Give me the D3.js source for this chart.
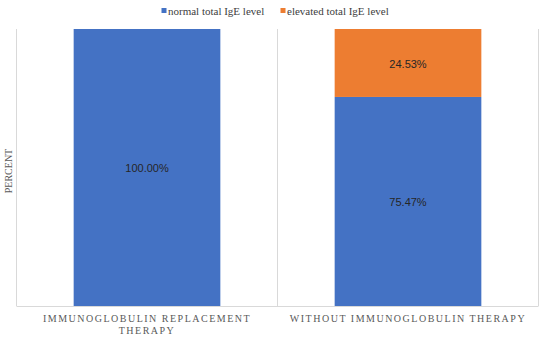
<!DOCTYPE html>
<head>
    <meta charset="utf-8">
    <style>
        body { margin: 0; background: #fff; }
        .grid { stroke: #d9d9d9; stroke-width: 1px; }
        .cat-label { font-family: "Liberation Serif", "DejaVu Serif", serif; font-size: 10px; fill: #595959; letter-spacing: 1.5px; }
        .legend-text { font-family: "Liberation Serif", serif; font-size: 11px; fill: #404040; }
        .value-label { font-family: "Liberation Sans", "DejaVu Sans", sans-serif; font-size: 11px; fill: #262626; }
        .axis-title { font-family: "Liberation Serif", serif; font-size: 10px; fill: #595959; }
    </style>
</head>
<body>
    <script src="https://d3js.org/d3.v7.min.js"></script>
    <script>
        // chart data
        var categories = ["IMMUNOGLOBULIN REPLACEMENT THERAPY", "WITHOUT IMMUNOGLOBULIN THERAPY"];
        var categoryLines = [["IMMUNOGLOBULIN REPLACEMENT", "THERAPY"], ["WITHOUT IMMUNOGLOBULIN THERAPY"]];
        var seriesNames = ["normal total IgE level", "elevated total IgE level"];
        var normalValues = [100.00, 75.47];
        var elevatedValues = [0, 24.53];
        var colors = ["#4472C4", "#ED7D31"];

        var width = 550, height = 341;
        var plot = {left: 16.5, right: 538.5, top: 29, bottom: 306};

        var svg = d3.select("body").append("svg")
            .attr("width", width)
            .attr("height", height);

        var x = d3.scaleBand()
            .domain(categories)
            .range([plot.left, plot.right])
            .paddingInner(0.438)
            .paddingOuter(0.219);

        var y = d3.scaleLinear().domain([0, 100]).range([plot.bottom, plot.top]);

        // build stacked table
        var table = categories.map(function(c, i) {
            return {cat: c, normal: normalValues[i], elevated: elevatedValues[i]};
        });
        var stack = d3.stack().keys(["normal", "elevated"])(table);

        // vertical gridlines at category boundaries
        var gap = x.step() * x.paddingInner() / 2;
        var bounds = categories.map(function(c) { return x(c) - gap; });
        bounds.push(x(categories[categories.length - 1]) + x.bandwidth() + gap);
        svg.selectAll(".vgrid").data(bounds).enter().append("line")
            .attr("class", "grid")
            .attr("x1", function(d) { return Math.floor(d) + 0.5; })
            .attr("x2", function(d) { return Math.floor(d) + 0.5; })
            .attr("y1", y(100))
            .attr("y2", y(0));

        // bars
        stack.forEach(function(layer, li) {
            var segs = layer.filter(function(d) { return d[1] - d[0] > 0; });
            svg.append("g").selectAll("rect")
                .data(segs)
                .enter().append("rect")
                .attr("x", function(d) { return x(d.data.cat); })
                .attr("width", x.bandwidth())
                .attr("y", function(d) { return y(d[1]); })
                .attr("height", function(d) { return y(d[0]) - y(d[1]); })
                .attr("fill", colors[li]);

            svg.append("g").selectAll("text")
                .data(segs)
                .enter().append("text")
                .attr("class", "value-label")
                .attr("x", function(d) { return x(d.data.cat) + x.bandwidth() / 2; })
                .attr("y", function(d) { return (y(d[0]) + y(d[1])) / 2 + 1; })
                .attr("dy", "0.35em")
                .attr("text-anchor", "middle")
                .text(function(d) { return (d[1] - d[0]).toFixed(2) + "%"; });
        });

        // x axis line
        svg.append("line")
            .attr("class", "grid")
            .attr("x1", plot.left).attr("x2", plot.right)
            .attr("y1", plot.bottom + 0.5).attr("y2", plot.bottom + 0.5);

        // category labels
        categories.forEach(function(c, i) {
            var cx = x(c) + x.bandwidth() / 2;
            var t = svg.append("text")
                .attr("class", "cat-label")
                .attr("text-anchor", "middle")
                .attr("x", cx)
                .attr("y", 321.5);
            categoryLines[i].forEach(function(line, j) {
                t.append("tspan")
                    .attr("x", cx)
                    .attr("dy", j === 0 ? 0 : 12.6)
                    .text(line);
            });
        });

        // y axis title
        svg.append("text")
            .attr("class", "axis-title")
            .attr("transform", "translate(11.5," + 171 + ") rotate(-90)")
            .attr("text-anchor", "middle")
            .text("PERCENT");

        // legend
        var legendX = [161.5, 280.5];
        seriesNames.forEach(function(name, i) {
            svg.append("rect")
                .attr("x", legendX[i]).attr("y", 8)
                .attr("width", 5).attr("height", 5)
                .attr("fill", colors[i]);
            svg.append("text")
                .attr("class", "legend-text")
                .attr("x", legendX[i] + 6.5).attr("y", 14.5)
                .text(name);
        });
    </script>
</body>
